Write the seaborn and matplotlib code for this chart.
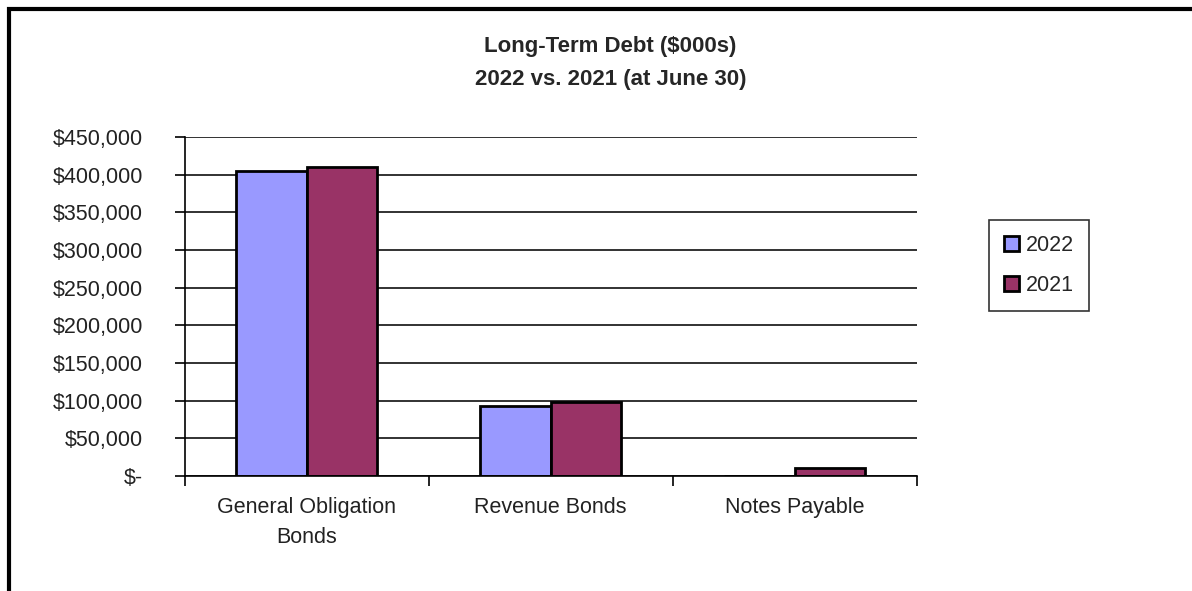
"""Long-term debt comparison chart, 2022 vs 2021."""
import matplotlib
matplotlib.use("Agg")
import matplotlib.pyplot as plt
import matplotlib.ticker as mticker
from matplotlib.patches import Rectangle
import pandas as pd
import seaborn as sns

categories = ["General Obligation\nBonds", "Revenue Bonds", "Notes Payable"]
years = ["2022", "2021"]
debt_2022 = [405300, 92600, 0]
debt_2021 = [410500, 98200, 10600]
colors = {"2022": "#9999FF", "2021": "#993366"}

sns.set_theme(style="white")
plt.rcParams["font.family"] = ["Liberation Sans", "DejaVu Sans"]

df = pd.DataFrame({
    "category": categories * 2,
    "year": ["2022"] * 3 + ["2021"] * 3,
    "value": debt_2022 + debt_2021,
})

fig = plt.figure(figsize=(11.92, 5.91), dpi=100)
ax = fig.add_axes([0.155, 0.1946, 0.614, 0.5736])

sns.barplot(data=df, x="category", y="value", hue="year", hue_order=years,
            palette=colors, width=0.58, edgecolor="black", linewidth=2,
            saturation=1, ax=ax, legend=True)

ax.set_ylim(0, 450000)
ax.set_xlim(-0.5, 2.5)
ax.yaxis.set_major_locator(mticker.MultipleLocator(50000))
ax.yaxis.set_major_formatter(mticker.FuncFormatter(
    lambda v, _: "$-" if v == 0 else f"${v:,.0f}"))
ax.grid(axis="y", color="#222222", linewidth=1.3)
ax.set_axisbelow(True)
for side in ["top", "right"]:
    ax.spines[side].set_visible(False)
for side in ["left", "bottom"]:
    ax.spines[side].set_color("black")
    ax.spines[side].set_linewidth(1.2)

ax.set_xticks([-0.5, 0.5, 1.5, 2.5], minor=True)
ax.tick_params(axis="x", which="major", length=0, pad=15, labelsize=15.5)
ax.tick_params(axis="x", which="minor", length=7, width=1.2, color="black",
               direction="out", bottom=True)
ax.tick_params(axis="y", length=7, width=1.2, color="black", direction="out",
               left=True, labelsize=15.5, pad=23)
for lbl in ax.get_xticklabels():
    lbl.set_linespacing(1.55)
for lbl in ax.get_xticklabels() + ax.get_yticklabels():
    lbl.set_color("#222222")
ax.set_xlabel("")
ax.set_ylabel("")

ax.legend(loc="center", bbox_to_anchor=(0.8716, 0.551),
          bbox_transform=fig.transFigure, frameon=True, fancybox=False,
          edgecolor="black", fontsize=15.5, handlelength=0.7, handleheight=0.7,
          handletextpad=0.3, labelspacing=0.9, borderpad=0.7)
ax.get_legend().get_frame().set_linewidth(1.2)

fig.text(0.512, 0.922, "Long-Term Debt ($000s)", ha="center", va="center",
         fontsize=16, fontweight="bold")
fig.text(0.512, 0.866, "2022 vs. 2021 (at June 30)", ha="center", va="center",
         fontsize=16, fontweight="bold")

# page frame: only top and left edges are visible in the crop
fig.add_artist(Rectangle((0.0075, -0.1), 1.1, 1.085, transform=fig.transFigure,
                         fill=False, edgecolor="black", linewidth=3,
                         clip_on=False))

fig.savefig("out.png", dpi=100)
